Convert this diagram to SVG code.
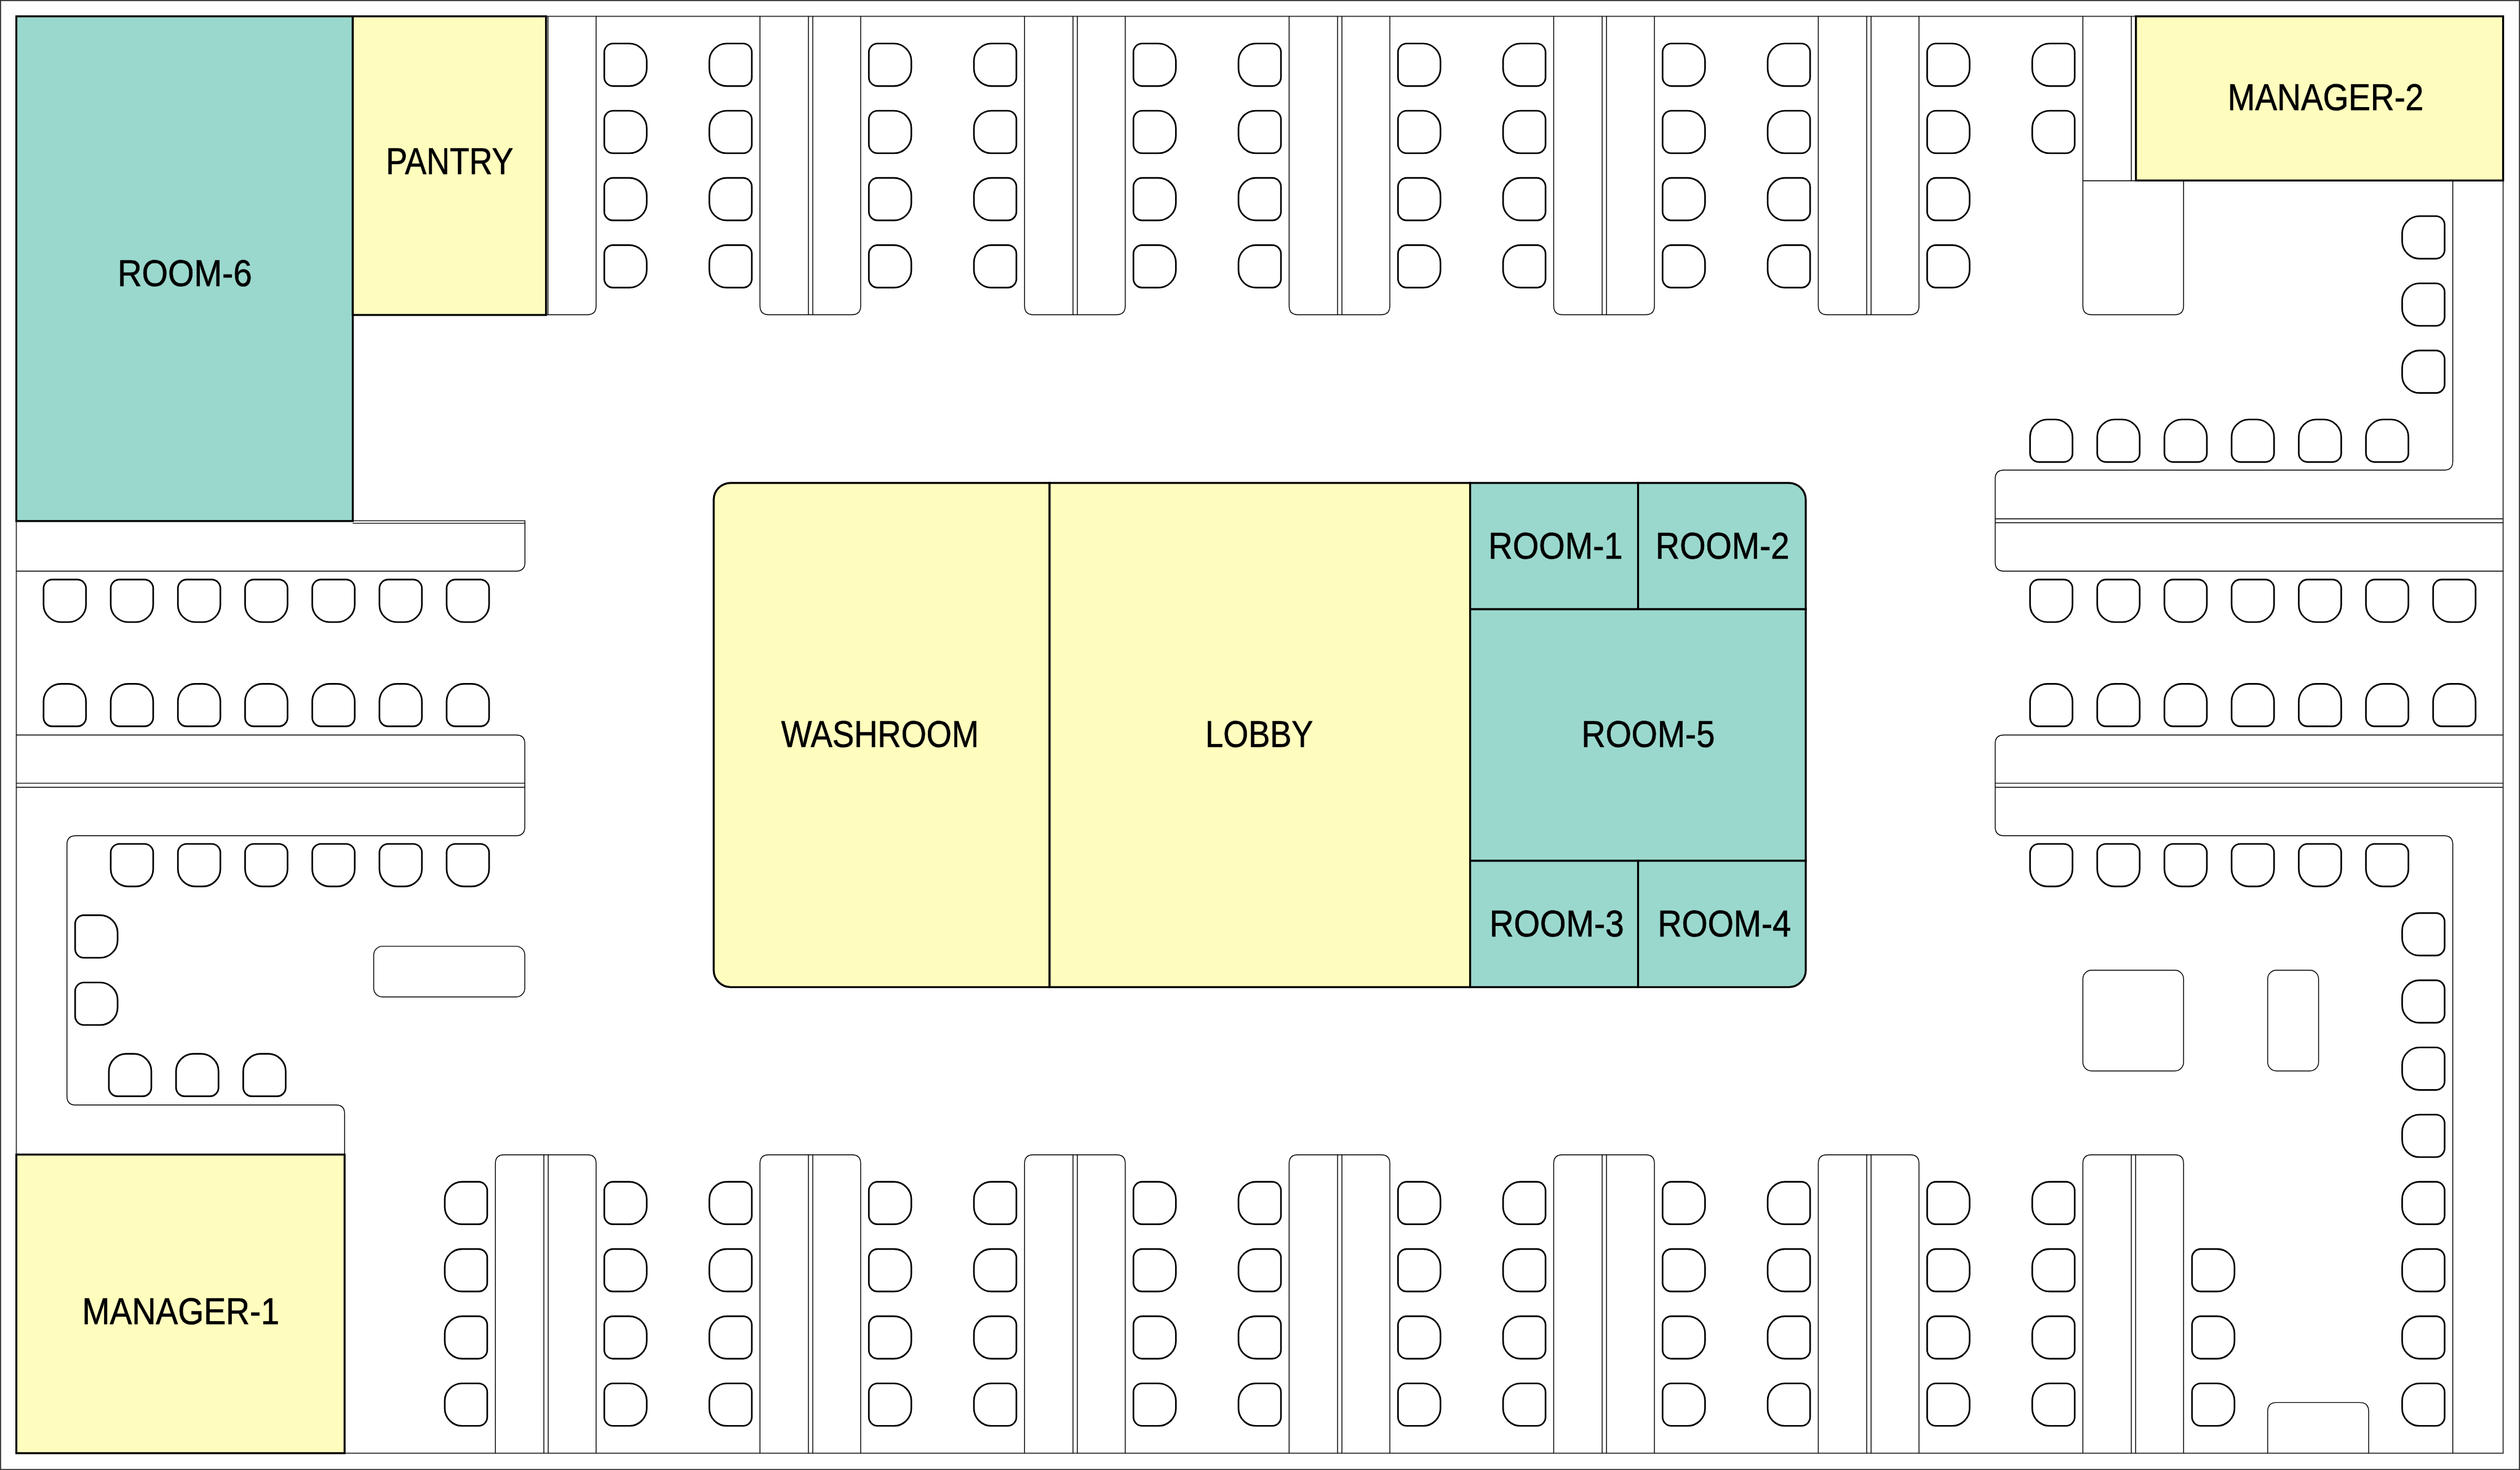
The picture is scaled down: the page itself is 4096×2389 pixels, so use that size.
<svg xmlns="http://www.w3.org/2000/svg" width="4096" height="2389" viewBox="0 0 4096 2389">
<style>
.ln{fill:none;stroke:#000;stroke-width:1.6}
.bd{fill:none;stroke:#333;stroke-width:2}
.ch{fill:#fff;stroke:#000;stroke-width:3}
.rm{stroke:#000;stroke-width:3.6}
.y{fill:#FFFDBE}
.t{fill:#9AD8CD}
text{font-family:"Liberation Sans",Arial,sans-serif;font-size:69px;fill:#000;stroke:#000;stroke-width:0.8}
</style>
<defs>
<path id="cR" class="ch" d="M16,0H46A32,32 0 0 1 78,32V46A32,32 0 0 1 46,78H16A16,16 0 0 1 0,62V16A16,16 0 0 1 16,0Z"/>
<path id="cL" class="ch" d="M32,0H62A16,16 0 0 1 78,16V62A16,16 0 0 1 62,78H32A32,32 0 0 1 0,46V32A32,32 0 0 1 32,0Z"/>
<path id="cT" class="ch" d="M32,0H46A32,32 0 0 1 78,32V62A16,16 0 0 1 62,78H16A16,16 0 0 1 0,62V32A32,32 0 0 1 32,0Z"/>
<path id="cB" class="ch" d="M16,0H62A16,16 0 0 1 78,16V46A32,32 0 0 1 46,78H32A32,32 0 0 1 0,46V16A16,16 0 0 1 16,0Z"/>
<g id="colR"><use href="#cR" y="0"/><use href="#cR" y="123.4"/><use href="#cR" y="246.8"/><use href="#cR" y="370.2"/></g>
<g id="colL"><use href="#cL" y="0"/><use href="#cL" y="123.4"/><use href="#cL" y="246.8"/><use href="#cL" y="370.2"/></g>
<g id="tblTop"><path class="ln" d="M0,30V562Q0,578 16,578H169Q185,578 185,562V30"/><path class="ln" d="M89,30V578M97,30V578"/></g>
<g id="tblBot"><path class="ln" d="M0,2669V2137Q0,2121 16,2121H169Q185,2121 185,2137V2669"/><path class="ln" d="M89,2121V2669M97,2121V2669"/></g>
</defs>
<rect width="4096" height="2389" fill="#fff"/>
<g transform="scale(0.88486)">
<g id="border">
<rect class="bd" x="1" y="1" width="4627" height="2698"/>
<rect class="bd" x="30" y="30" width="4568" height="2639"/>
</g>
<g id="tables">
<path class="ln" d="M1095,30V562Q1095,578 1079,578H1003"/>
<path class="ln" d="M1006.5,30V578"/>
<use href="#tblTop" x="1396"/><use href="#tblTop" x="1882"/><use href="#tblTop" x="2368"/><use href="#tblTop" x="2854"/><use href="#tblTop" x="3340"/>
<path class="ln" d="M3826,30V562Q3826,578 3842,578H3995Q4011,578 4011,562V332M3826,332H3923M3915,30V332"/>
<use href="#tblBot" x="910"/><use href="#tblBot" x="1396"/><use href="#tblBot" x="1882"/><use href="#tblBot" x="2368"/><use href="#tblBot" x="2854"/><use href="#tblBot" x="3340"/><use href="#tblBot" x="3826"/>
<path class="ln" d="M648,956.5H964.3V1033Q964.3,1049 948,1049H30M648,961H964.3"/>
<path class="ln" d="M30,1350H948Q964,1350 964,1366V1519Q964,1535 948,1535H139Q123,1535 123,1551V2013.5Q123,2029.5 139,2029.5H617Q633,2029.5 633,2045.5V2121"/>
<path class="ln" d="M30,1438.5H964M30,1446H964"/>
<path class="ln" d="M4505.5,332V848Q4505.5,863.5 4489.5,863.5H3681Q3665,863.5 3665,879.5V1033Q3665,1049 3681,1049H4598"/>
<path class="ln" d="M3665,953H4598M3665,960H4598"/>
<path class="ln" d="M4598,1350H3681Q3665,1350 3665,1366V1519Q3665,1535 3681,1535H4489.5Q4505.5,1535 4505.5,1551V2669"/>
<path class="ln" d="M3665,1438.5H4598M3665,1446H4598"/>
<rect class="ln" x="686.5" y="1738" width="277.5" height="93" rx="16"/>
<rect class="ln" x="3826" y="1782" width="185" height="185" rx="16"/>
<rect class="ln" x="4165.5" y="1782" width="93.5" height="185" rx="16"/>
<path class="ln" d="M4165.5,2669V2592Q4165.5,2576 4181.5,2576H4335Q4351,2576 4351,2592V2669"/>
</g>
<g id="chairs">
<use href="#colR" x="1110" y="80"/><use href="#colR" x="1596" y="80"/><use href="#colR" x="2082" y="80"/><use href="#colR" x="2568" y="80"/><use href="#colR" x="3054" y="80"/><use href="#colR" x="3540" y="80"/>
<use href="#colL" x="1303" y="80"/><use href="#colL" x="1789" y="80"/><use href="#colL" x="2275" y="80"/><use href="#colL" x="2761" y="80"/><use href="#colL" x="3247" y="80"/>
<use href="#cL" x="3733" y="80"/><use href="#cL" x="3733" y="203.4"/>
<use href="#colL" x="817" y="2170.6"/><use href="#colL" x="1303" y="2170.6"/><use href="#colL" x="1789" y="2170.6"/><use href="#colL" x="2275" y="2170.6"/><use href="#colL" x="2761" y="2170.6"/><use href="#colL" x="3247" y="2170.6"/><use href="#colL" x="3733" y="2170.6"/>
<use href="#colR" x="1110" y="2170.6"/><use href="#colR" x="1596" y="2170.6"/><use href="#colR" x="2082" y="2170.6"/><use href="#colR" x="2568" y="2170.6"/><use href="#colR" x="3054" y="2170.6"/><use href="#colR" x="3540" y="2170.6"/>
<use href="#cR" x="4026.5" y="2294"/><use href="#cR" x="4026.5" y="2417.4"/><use href="#cR" x="4026.5" y="2540.8"/>
<use href="#cB" x="80" y="1064.5"/><use href="#cB" x="203.4" y="1064.5"/><use href="#cB" x="326.8" y="1064.5"/><use href="#cB" x="450.2" y="1064.5"/><use href="#cB" x="573.6" y="1064.5"/><use href="#cB" x="697" y="1064.5"/><use href="#cB" x="820.4" y="1064.5"/>
<use href="#cT" x="80" y="1256"/><use href="#cT" x="203.4" y="1256"/><use href="#cT" x="326.8" y="1256"/><use href="#cT" x="450.2" y="1256"/><use href="#cT" x="573.6" y="1256"/><use href="#cT" x="697" y="1256"/><use href="#cT" x="820.4" y="1256"/>
<use href="#cB" x="203.4" y="1550"/><use href="#cB" x="326.8" y="1550"/><use href="#cB" x="450.2" y="1550"/><use href="#cB" x="573.6" y="1550"/><use href="#cB" x="697" y="1550"/><use href="#cB" x="820.4" y="1550"/>
<use href="#cR" x="138" y="1681"/><use href="#cR" x="138" y="1804.5"/>
<use href="#cT" x="200" y="1935.5"/><use href="#cT" x="323.4" y="1935.5"/><use href="#cT" x="446.8" y="1935.5"/>
<use href="#cT" x="3729" y="770.5"/><use href="#cT" x="3852.4" y="770.5"/><use href="#cT" x="3975.8" y="770.5"/><use href="#cT" x="4099.2" y="770.5"/><use href="#cT" x="4222.6" y="770.5"/><use href="#cT" x="4346" y="770.5"/>
<use href="#cB" x="3729" y="1064.5"/><use href="#cB" x="3852.4" y="1064.5"/><use href="#cB" x="3975.8" y="1064.5"/><use href="#cB" x="4099.2" y="1064.5"/><use href="#cB" x="4222.6" y="1064.5"/><use href="#cB" x="4346" y="1064.5"/><use href="#cB" x="4469.4" y="1064.5"/>
<use href="#cT" x="3729" y="1256"/><use href="#cT" x="3852.4" y="1256"/><use href="#cT" x="3975.8" y="1256"/><use href="#cT" x="4099.2" y="1256"/><use href="#cT" x="4222.6" y="1256"/><use href="#cT" x="4346" y="1256"/><use href="#cT" x="4469.4" y="1256"/>
<use href="#cB" x="3729" y="1550"/><use href="#cB" x="3852.4" y="1550"/><use href="#cB" x="3975.8" y="1550"/><use href="#cB" x="4099.2" y="1550"/><use href="#cB" x="4222.6" y="1550"/><use href="#cB" x="4346" y="1550"/>
<use href="#cL" x="4412.5" y="397"/><use href="#cL" x="4412.5" y="520.4"/><use href="#cL" x="4412.5" y="643.8"/>
<use href="#cL" x="4412.5" y="1677"/><use href="#cL" x="4412.5" y="1800.4"/><use href="#cL" x="4412.5" y="1923.8"/><use href="#cL" x="4412.5" y="2047.2"/><use href="#cL" x="4412.5" y="2170.6"/><use href="#cL" x="4412.5" y="2294"/><use href="#cL" x="4412.5" y="2417.4"/><use href="#cL" x="4412.5" y="2540.8"/>
</g>
<g id="room-6"><rect class="rm t" x="30" y="30" width="618" height="927"/><text x="216" y="526" textLength="247" lengthAdjust="spacingAndGlyphs">ROOM-6</text></g>
<g id="pantry"><rect class="rm y" x="648" y="30" width="355" height="548.5"/><text x="709" y="320" textLength="234" lengthAdjust="spacingAndGlyphs">PANTRY</text></g>
<g id="manager-2"><rect class="rm y" x="3923.5" y="30" width="674.5" height="301.5"/><text x="4092" y="202" textLength="360" lengthAdjust="spacingAndGlyphs">MANAGER-2</text></g>
<g id="manager-1"><rect class="rm y" x="30" y="2120.5" width="603" height="548.5"/><text x="151" y="2432" textLength="362" lengthAdjust="spacingAndGlyphs">MANAGER-1</text></g>
<g id="washroom"><path class="rm y" d="M1928,887H1342A31,31 0 0 0 1311,918V1782A31,31 0 0 0 1342,1813H1928Z"/><text x="1435" y="1372" textLength="363" lengthAdjust="spacingAndGlyphs">WASHROOM</text></g>
<g id="lobby"><rect class="rm y" x="1928" y="887" width="772.5" height="926"/><text x="2214" y="1372" textLength="198" lengthAdjust="spacingAndGlyphs">LOBBY</text></g>
<g id="room-1"><rect class="rm t" x="2700.5" y="887" width="308.5" height="232"/><text x="2734" y="1026" textLength="247" lengthAdjust="spacingAndGlyphs">ROOM-1</text></g>
<g id="room-2"><path class="rm t" d="M3009,887H3286A31,31 0 0 1 3317,918V1119H3009Z"/><text x="3041" y="1026" textLength="246" lengthAdjust="spacingAndGlyphs">ROOM-2</text></g>
<g id="room-5"><rect class="rm t" x="2700.5" y="1119" width="616.5" height="462"/><text x="2905" y="1372" textLength="245" lengthAdjust="spacingAndGlyphs">ROOM-5</text></g>
<g id="room-3"><rect class="rm t" x="2700.5" y="1581" width="308.5" height="232"/><text x="2736" y="1720" textLength="247" lengthAdjust="spacingAndGlyphs">ROOM-3</text></g>
<g id="room-4"><path class="rm t" d="M3009,1581H3317V1782A31,31 0 0 1 3286,1813H3009Z"/><text x="3045" y="1720" textLength="245" lengthAdjust="spacingAndGlyphs">ROOM-4</text></g>
</g>
</svg>
